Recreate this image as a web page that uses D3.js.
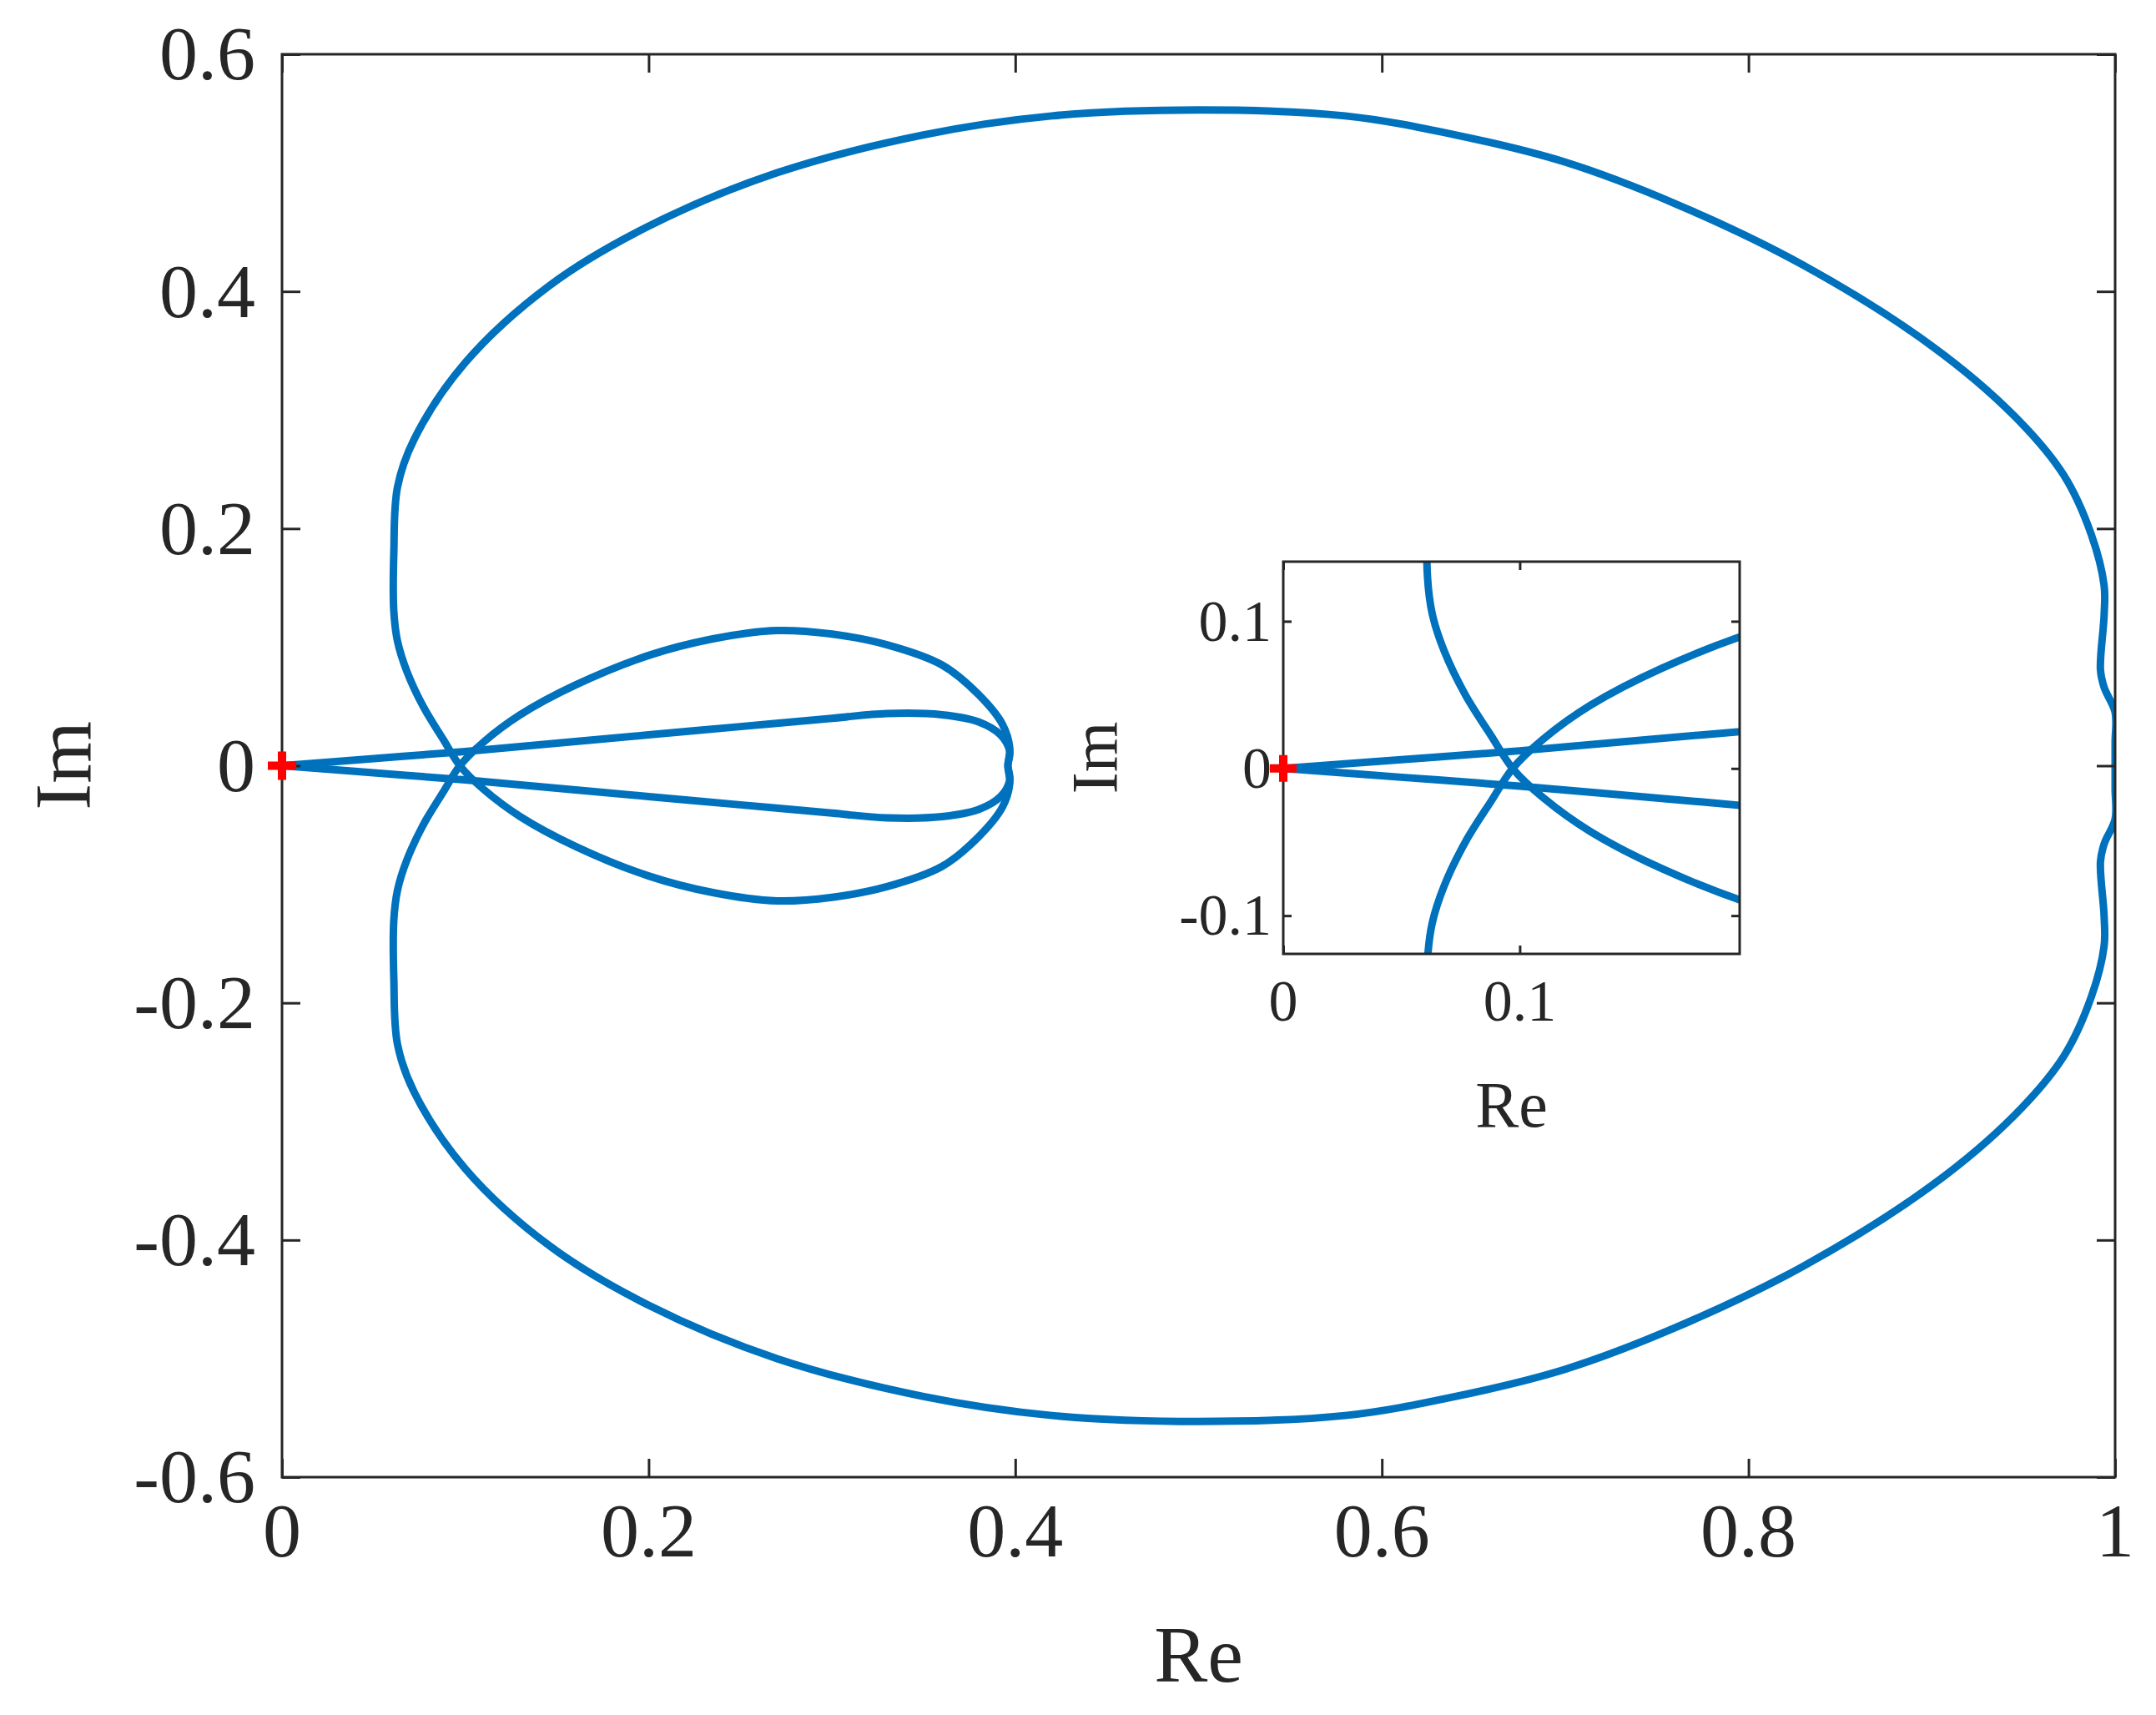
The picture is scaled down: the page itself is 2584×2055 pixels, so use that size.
<!DOCTYPE html>
<html><head><meta charset="utf-8">
<script src="https://cdn.jsdelivr.net/npm/d3@7"></script>
<style>body{margin:0;background:#fff}text{font-family:"Times New Roman","Liberation Serif",Tinos,serif;fill:#262626}</style>
</head><body><svg id="chart" width="2584" height="2055"></svg>
<script>
// upper branch of the locus (the other half is its mirror image)
const reVals = [0,0.05,0.1,0.15,0.2,0.25,0.3,0.33,0.36,0.38,0.392,0.397,0.396,
  0.397,0.393,0.38,0.36,0.33,0.3,0.27,0.235,0.2,0.16,0.13,0.11,0.097,0.088,0.077,0.068,0.063,0.061,
  0.061,0.063,0.072,0.1,0.146,0.2,0.27,0.35,0.42,0.5,0.58,0.64,0.7,0.76,0.83,0.9,0.945,0.972,0.987,0.994,0.994,0.992,0.994,1.0,1.0,1.0];
const imVals = [0,0.006,0.012,0.019,0.026,0.033,0.04,0.044,0.043,0.037,0.026,0.012,0,
  -0.015,-0.035,-0.06,-0.085,-0.102,-0.111,-0.114,-0.107,-0.093,-0.068,-0.043,-0.02,0,0.022,0.05,0.08,0.105,0.13,
  0.18,0.235,0.275,0.34,0.405,0.455,0.5,0.532,0.548,0.553,0.548,0.532,0.509,0.474,0.422,0.354,0.295,0.245,0.195,0.152,0.127,0.081,0.066,0.045,0.02,0];
const xTicks = [0,0.2,0.4,0.6,0.8,1];
const yTicks = [-0.6,-0.4,-0.2,0,0.2,0.4,0.6];
const insetXTicks = [0,0.1];
const insetYTicks = [-0.1,0,0.1];

const upper = reVals.map((r,i)=>[r,imVals[i]]);
const lower = upper.map(([r,m])=>[r,-m]);
const svg = d3.select("#chart");
const BLUE = "#0072BD";

function panel(o){
  const x = d3.scaleLinear().domain(o.xd).range([o.l,o.r]);
  const y = d3.scaleLinear().domain(o.yd).range([o.b,o.t]);
  const g = svg.append("g");
  const id = "clip"+o.name;
  svg.append("clipPath").attr("id",id).append("rect")
    .attr("x",o.l).attr("y",o.t).attr("width",o.r-o.l).attr("height",o.b-o.t);
  g.append("rect").attr("x",o.l).attr("y",o.t).attr("width",o.r-o.l).attr("height",o.b-o.t).attr("fill","#fff");
  const line = d3.line().x(d=>x(d[0])).y(d=>y(d[1])).curve(d3.curveCatmullRom);
  [upper,lower].forEach(p=>g.append("path").attr("d",line(p)).attr("clip-path",`url(#${id})`)
    .attr("fill","none").attr("stroke",BLUE).attr("stroke-width",o.lw).attr("stroke-linejoin","round").attr("stroke-linecap","round"));
  const axes = [
    [d3.axisBottom(x).tickValues(o.xt),`translate(0,${o.b})`],
    [d3.axisTop(x).tickValues(o.xt),`translate(0,${o.t})`],
    [d3.axisLeft(y).tickValues(o.yt),`translate(${o.l},0)`],
    [d3.axisRight(y).tickValues(o.yt),`translate(${o.r},0)`]];
  axes.forEach(([ax,tr])=>{
    const a = g.append("g").attr("transform",tr).call(ax.tickSize(-o.tk).tickSizeOuter(0).tickFormat(""));
    a.select(".domain").remove();
    a.selectAll("line").attr("stroke","#262626").attr("stroke-width",o.sw);
  });
  g.append("rect").attr("x",o.l).attr("y",o.t).attr("width",o.r-o.l).attr("height",o.b-o.t)
    .attr("fill","none").attr("stroke","#262626").attr("stroke-width",o.sw);
  g.selectAll(".xl").data(o.xt).join("text").attr("x",d=>x(d)).attr("y",o.b+o.xoff)
    .attr("text-anchor","middle").attr("font-size",o.fs).text(d=>d3.format("")(d));
  g.selectAll(".yl").data(o.yt).join("text").attr("x",o.l-o.yoff).attr("y",d=>y(d)+o.fs*0.33)
    .attr("text-anchor","end").attr("font-size",o.fs).text(d=>d3.format("")(d).replace("−","-"));
  g.append("text").attr("x",(o.l+o.r)/2).attr("y",o.reY).attr("text-anchor","middle").attr("font-size",o.ls).text("Re");
  g.append("text").attr("transform",`translate(${o.imX},${(o.t+o.b)/2}) rotate(-90)`).attr("text-anchor","middle").attr("font-size",o.ls).text("Im");
  // red plus at origin
  const s = o.ms;
  g.append("path").attr("d",`M${x(0)-s},${y(0)}H${x(0)+s}M${x(0)},${y(0)-s}V${y(0)+s}`)
    .attr("stroke","#FF0000").attr("stroke-width",o.mw);
}

panel({name:"main",l:338,r:2535,t:65,b:1770,xd:[0,1],yd:[-0.6,0.6],xt:xTicks,yt:yTicks,
  lw:9,sw:3,tk:22,fs:92,ls:96,xoff:95,yoff:32,reY:2015,imX:108,ms:17,mw:10});
panel({name:"inset",l:1538,r:2085,t:673,b:1143,xd:[0,0.193],yd:[-0.126,0.1405],xt:insetXTicks,yt:insetYTicks,
  lw:9,sw:3,tk:10,fs:70,ls:78,xoff:80,yoff:14,reY:1350,imX:1338,ms:16,mw:10});
</script></body></html>
